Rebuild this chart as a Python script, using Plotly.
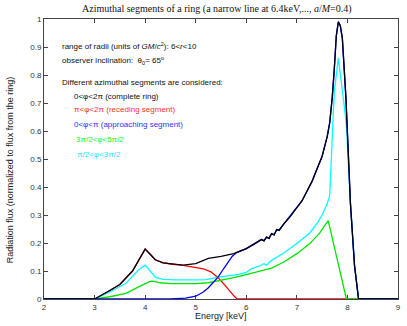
import plotly.graph_objects as go

# ---- data ----
energy_black = [2.0, 3.0, 3.25, 3.5, 3.75, 3.9, 4.0, 4.1, 4.2, 4.35, 4.5, 4.75, 5.0, 5.25, 5.5, 5.75,
                6.0, 6.15, 6.25, 6.3, 6.35, 6.4, 6.45, 6.5, 6.55, 6.6, 6.65, 6.75, 6.85, 7.0, 7.1, 7.2,
                7.3, 7.4, 7.5, 7.55, 7.6, 7.65, 7.7, 7.74, 7.78, 7.82, 7.86, 7.9, 7.97, 8.06, 8.14, 8.22, 9.0]
flux_black = [0.0, 0.0, 0.025, 0.052, 0.1, 0.145, 0.178, 0.16, 0.14, 0.129, 0.126, 0.121, 0.126, 0.145, 0.152, 0.162,
              0.18, 0.195, 0.205, 0.213, 0.207, 0.222, 0.216, 0.233, 0.228, 0.248, 0.245, 0.27, 0.29, 0.325, 0.35, 0.385,
              0.42, 0.465, 0.51, 0.545, 0.58, 0.63, 0.72, 0.82, 0.94, 0.99, 0.975, 0.93, 0.72, 0.34, 0.12, 0.0, 0.0]

energy_red = [2.0, 3.0, 3.25, 3.5, 3.75, 3.9, 4.0, 4.1, 4.2, 4.35, 4.5, 4.75, 5.0, 5.15, 5.3, 5.45, 5.55,
              5.65, 5.75, 5.82, 9.0]
flux_red = [0.0, 0.0, 0.025, 0.052, 0.1, 0.145, 0.178, 0.16, 0.14, 0.13, 0.125, 0.12, 0.113, 0.108, 0.097, 0.075, 0.055,
            0.033, 0.012, 0.0, 0.0]

energy_blue = [2.0, 4.5, 4.8, 5.0, 5.15, 5.25, 5.35, 5.45, 5.55, 5.65, 5.72, 5.8,
               6.0, 6.15, 6.25, 6.3, 6.35, 6.4, 6.45, 6.5, 6.55, 6.6, 6.65, 6.75, 6.85, 7.0, 7.1, 7.2,
               7.3, 7.4, 7.5, 7.55, 7.6, 7.65, 7.7, 7.74, 7.78, 7.82, 7.86, 7.9, 7.97, 8.06, 8.14, 8.22, 9.0]
flux_blue = [0.0, 0.0, 0.003, 0.01, 0.025, 0.04, 0.06, 0.08, 0.108, 0.135, 0.152, 0.165,
             0.18, 0.195, 0.207, 0.212, 0.209, 0.22, 0.218, 0.234, 0.23, 0.247, 0.247, 0.27, 0.29, 0.325, 0.35, 0.385,
             0.42, 0.465, 0.51, 0.545, 0.58, 0.63, 0.72, 0.82, 0.94, 0.99, 0.975, 0.93, 0.72, 0.34, 0.12, 0.0, 0.0]

energy_green = [2.0, 3.0, 3.3, 3.62, 3.88, 4.0, 4.1, 4.15, 4.3, 4.5, 5.0, 5.25, 5.5, 5.75, 6.0, 6.25, 6.5,
                6.75, 7.0, 7.25, 7.45, 7.55, 7.62, 7.8, 7.98, 9.0]
flux_green = [0.0, 0.0, 0.008, 0.02, 0.044, 0.055, 0.063, 0.064, 0.058, 0.055, 0.055, 0.058, 0.066, 0.076, 0.087, 0.098, 0.11,
              0.133, 0.162, 0.197, 0.235, 0.262, 0.28, 0.14, 0.0, 0.0]

energy_cyan = [2.0, 3.0, 3.3, 3.62, 3.88, 4.0, 4.1, 4.2, 4.35, 4.6, 5.0, 5.2, 5.45, 5.85, 6.0, 6.1, 6.25, 6.35,
               6.4, 6.45, 6.5, 6.75, 7.0, 7.25, 7.4, 7.5, 7.6, 7.65, 7.68, 7.74, 7.82, 7.88, 7.93, 7.98,
               8.06, 8.14, 8.22, 9.0]
flux_cyan = [0.0, 0.0, 0.025, 0.056, 0.105, 0.121, 0.1, 0.078, 0.07, 0.068, 0.068, 0.069, 0.078, 0.088, 0.095, 0.108, 0.117, 0.126,
             0.121, 0.131, 0.138, 0.165, 0.198, 0.235, 0.27, 0.3, 0.34, 0.37, 0.5, 0.74, 0.86, 0.78, 0.7, 0.62,
             0.34, 0.12, 0.0, 0.0]

x_ticks = [2, 3, 4, 5, 6, 7, 8, 9]
y_ticks = [0, 0.1, 0.2, 0.3, 0.4, 0.5, 0.6, 0.7, 0.8, 0.9, 1]

fig = go.Figure()
series = [
    (energy_red, flux_red, "#ff0000"),
    (energy_green, flux_green, "#00e600"),
    (energy_cyan, flux_cyan, "#00ffff"),
    (energy_blue, flux_blue, "#0000ff"),
    (energy_black, flux_black, "#000010"),
]
for ex, fy, col in series:
    fig.add_trace(go.Scatter(x=ex, y=fy, mode="lines", line=dict(color=col, width=1.3),
                             showlegend=False, hoverinfo="skip"))

FONT = "Liberation Sans, Arial, Helvetica, sans-serif"
axis_common = dict(showline=True, linecolor="#444444", linewidth=1, mirror="allticks",
                   ticks="inside", ticklen=4, tickcolor="#444444", showgrid=False, zeroline=False,
                   tickfont=dict(family=FONT, size=8, color="#333333"), layer="below traces")
fig.update_xaxes(range=[2, 9], tickvals=x_ticks, **axis_common)
fig.update_yaxes(range=[0, 1], tickvals=y_ticks, **axis_common)

W, H = 407, 326
pl, pr, pt, pb = 44, 401, 19, 299  # pixel coordinates of plot area
fig.update_layout(
    width=W, height=H,
    margin=dict(l=pl, r=W - pr, t=pt, b=H - pb, pad=0),
    paper_bgcolor="white", plot_bgcolor="white",
)


def px2paper(x):
    return (x - pl) / (pr - pl)


def py2paper(y):
    return (pb - y) / (pb - pt)


annots = [
    ("range of radii (units of <i>GM</i>/<i>c</i><sup>2</sup>): 6&lt;<i>r</i>&lt;10", 60, 46, "#111111"),
    ("observer inclination:  θ<sub>0</sub>= 65<sup>o</sup>", 60, 60, "#111111"),
    ("Different azimuthal segments are considered:", 60, 82, "#111111"),
    ("0&lt;φ&lt;2π (complete ring)", 72, 96, "#111111"),
    ("π&lt;φ&lt;2π (receding segment)", 72, 110, "#ff3030"),
    ("0&lt;φ&lt;π (approaching segment)", 72, 124, "#3030ff"),
    ("3π/2&lt;φ&lt;5π/2", 74, 139, "#22ee22"),
    ("π/2&lt;φ&lt;3π/2", 75, 154, "#22e8ff"),
]
for txt, px, py, col in annots:
    fig.add_annotation(text=txt, x=px2paper(px), y=py2paper(py), xref="paper", yref="paper",
                       xanchor="left", yanchor="middle", showarrow=False,
                       font=dict(family=FONT, size=8, color=col))

fig.add_annotation(text="Azimuthal segments of a ring (a narrow line at 6.4keV,..., <i>a</i>/<i>M</i>=0.4)",
                   x=px2paper(218), y=py2paper(9), xref="paper", yref="paper",
                   xanchor="center", yanchor="middle", showarrow=False,
                   font=dict(family="Liberation Serif, Times New Roman, serif", size=10, color="#111111"))
fig.add_annotation(text="Energy [keV]", x=px2paper(223), y=py2paper(316), xref="paper", yref="paper",
                   xanchor="center", yanchor="middle", showarrow=False,
                   font=dict(family=FONT, size=9, color="#222222"))
fig.add_annotation(text="Radiation flux (normalized to flux from the ring)", x=px2paper(10), y=py2paper(170),
                   xref="paper", yref="paper", xanchor="center", yanchor="middle", showarrow=False,
                   textangle=-90, font=dict(family=FONT, size=9, color="#222222"))

fig.write_html("out.html", config={"displayModeBar": False},
               post_script="document.body.style.margin='0';document.body.style.padding='0';")
